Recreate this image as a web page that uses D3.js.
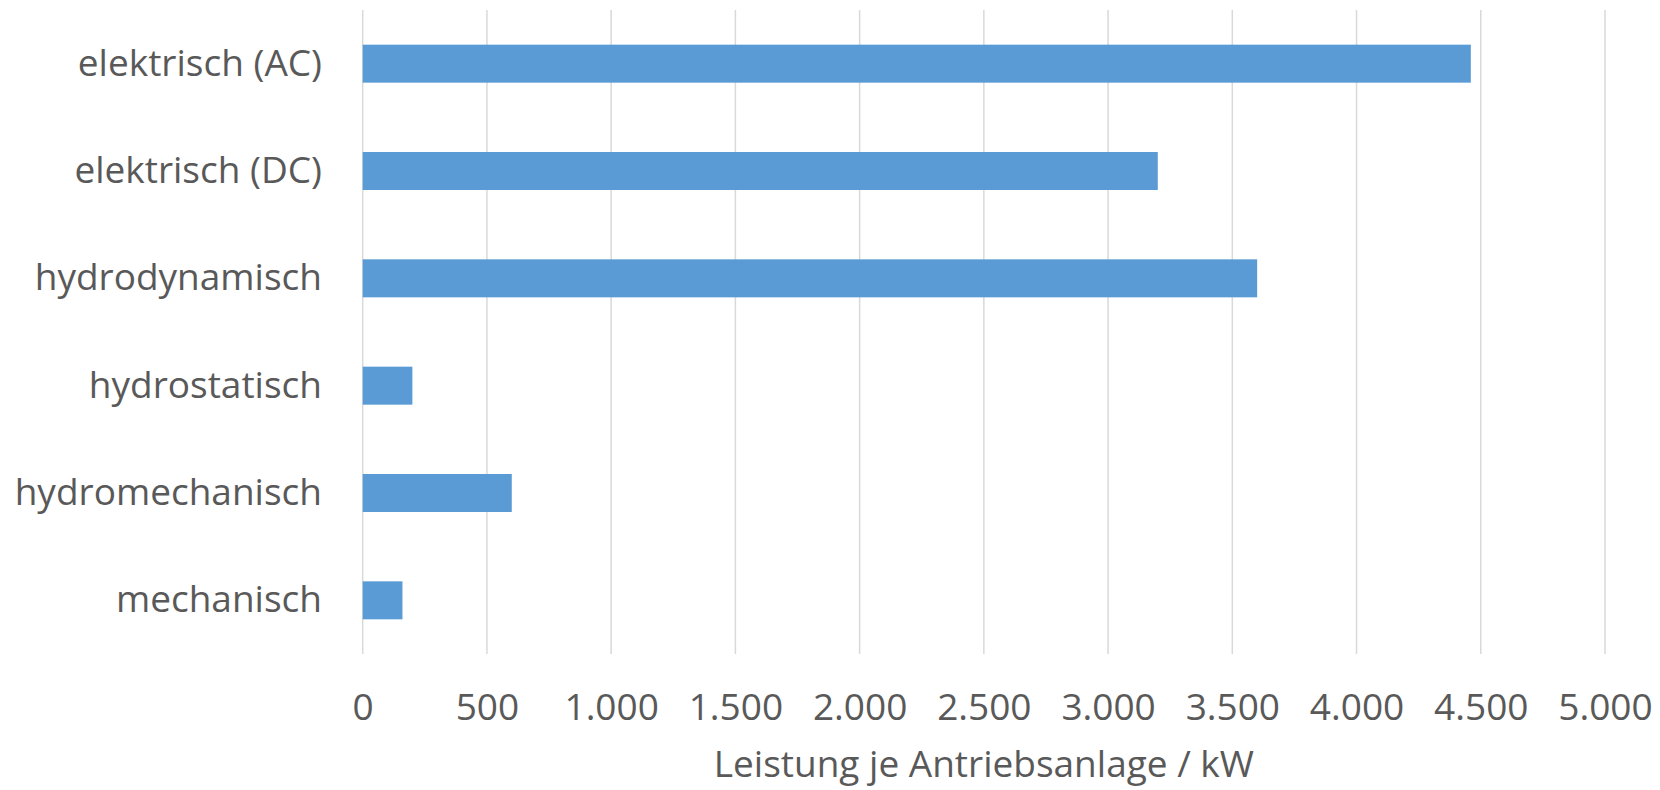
<!DOCTYPE html>
<html>
<head>
<meta charset="utf-8">
<script src="https://cdn.jsdelivr.net/npm/d3@7"></script>
<style>
  html, body { margin: 0; padding: 0; background: #fff; }
  svg { display: block; font-family: "Open Sans", sans-serif; }
</style>
</head>
<body>
<svg id="chart" width="1660" height="790"></svg>
<script>
// Antriebsarten and their power per drive unit (kW)
const categories = ["elektrisch (AC)", "elektrisch (DC)", "hydrodynamisch", "hydrostatisch", "hydromechanisch", "mechanisch"];
const values = [4460, 3200, 3600, 200, 600, 160];
const tickValues = [0, 500, 1000, 1500, 2000, 2500, 3000, 3500, 4000, 4500, 5000];
const axisTitle = "Leistung je Antriebsanlage / kW";

const svg = d3.select("#chart");
const plot = { left: 362.7, right: 1605, top: 10, bottom: 654 };
const fontSize = 37;

const x = d3.scaleLinear().domain([0, 5000]).range([plot.left, plot.right]);
const y = d3.scaleBand().domain(categories).range([plot.top, plot.bottom]).paddingInner(0.646).paddingOuter(0.323);

const fmt = d => d3.format(",")(d).replace(/,/g, ".");

// vertical gridlines
svg.append("g")
  .selectAll("line")
  .data(tickValues)
  .join("line")
  .attr("x1", d => x(d)).attr("x2", d => x(d))
  .attr("y1", plot.top).attr("y2", plot.bottom)
  .attr("stroke", "#d9d9d9")
  .attr("stroke-width", 1.5);

// bars
svg.append("g")
  .selectAll("rect")
  .data(values)
  .join("rect")
  .attr("x", x(0))
  .attr("y", (d, i) => y(categories[i]))
  .attr("width", d => x(d) - x(0))
  .attr("height", y.bandwidth())
  .attr("fill", "#5b9bd5");

// x axis tick labels
const xAxis = d3.axisBottom(x).tickValues(tickValues).tickFormat(fmt).tickSize(0).tickPadding(0);
const gx = svg.append("g").attr("transform", `translate(0, 707)`).call(xAxis);
gx.select(".domain").remove();
gx.selectAll("text")
  .attr("dy", "0.35em")
  .attr("fill", "#595959")
  .attr("font-size", fontSize)
  .attr("font-family", "Open Sans, sans-serif");

// category labels
const yAxis = d3.axisLeft(y).tickSize(0).tickPadding(0);
const gy = svg.append("g").attr("transform", `translate(322, 0)`).call(yAxis);
gy.select(".domain").remove();
gy.selectAll("text")
  .attr("fill", "#595959")
  .attr("font-size", fontSize)
  .attr("font-family", "Open Sans, sans-serif");

// axis title
svg.append("text")
  .attr("x", (plot.left + plot.right) / 2)
  .attr("y", 764)
  .attr("dy", "0.35em")
  .attr("text-anchor", "middle")
  .attr("fill", "#595959")
  .attr("font-size", fontSize)
  .text(axisTitle);
</script>
</body>
</html>
